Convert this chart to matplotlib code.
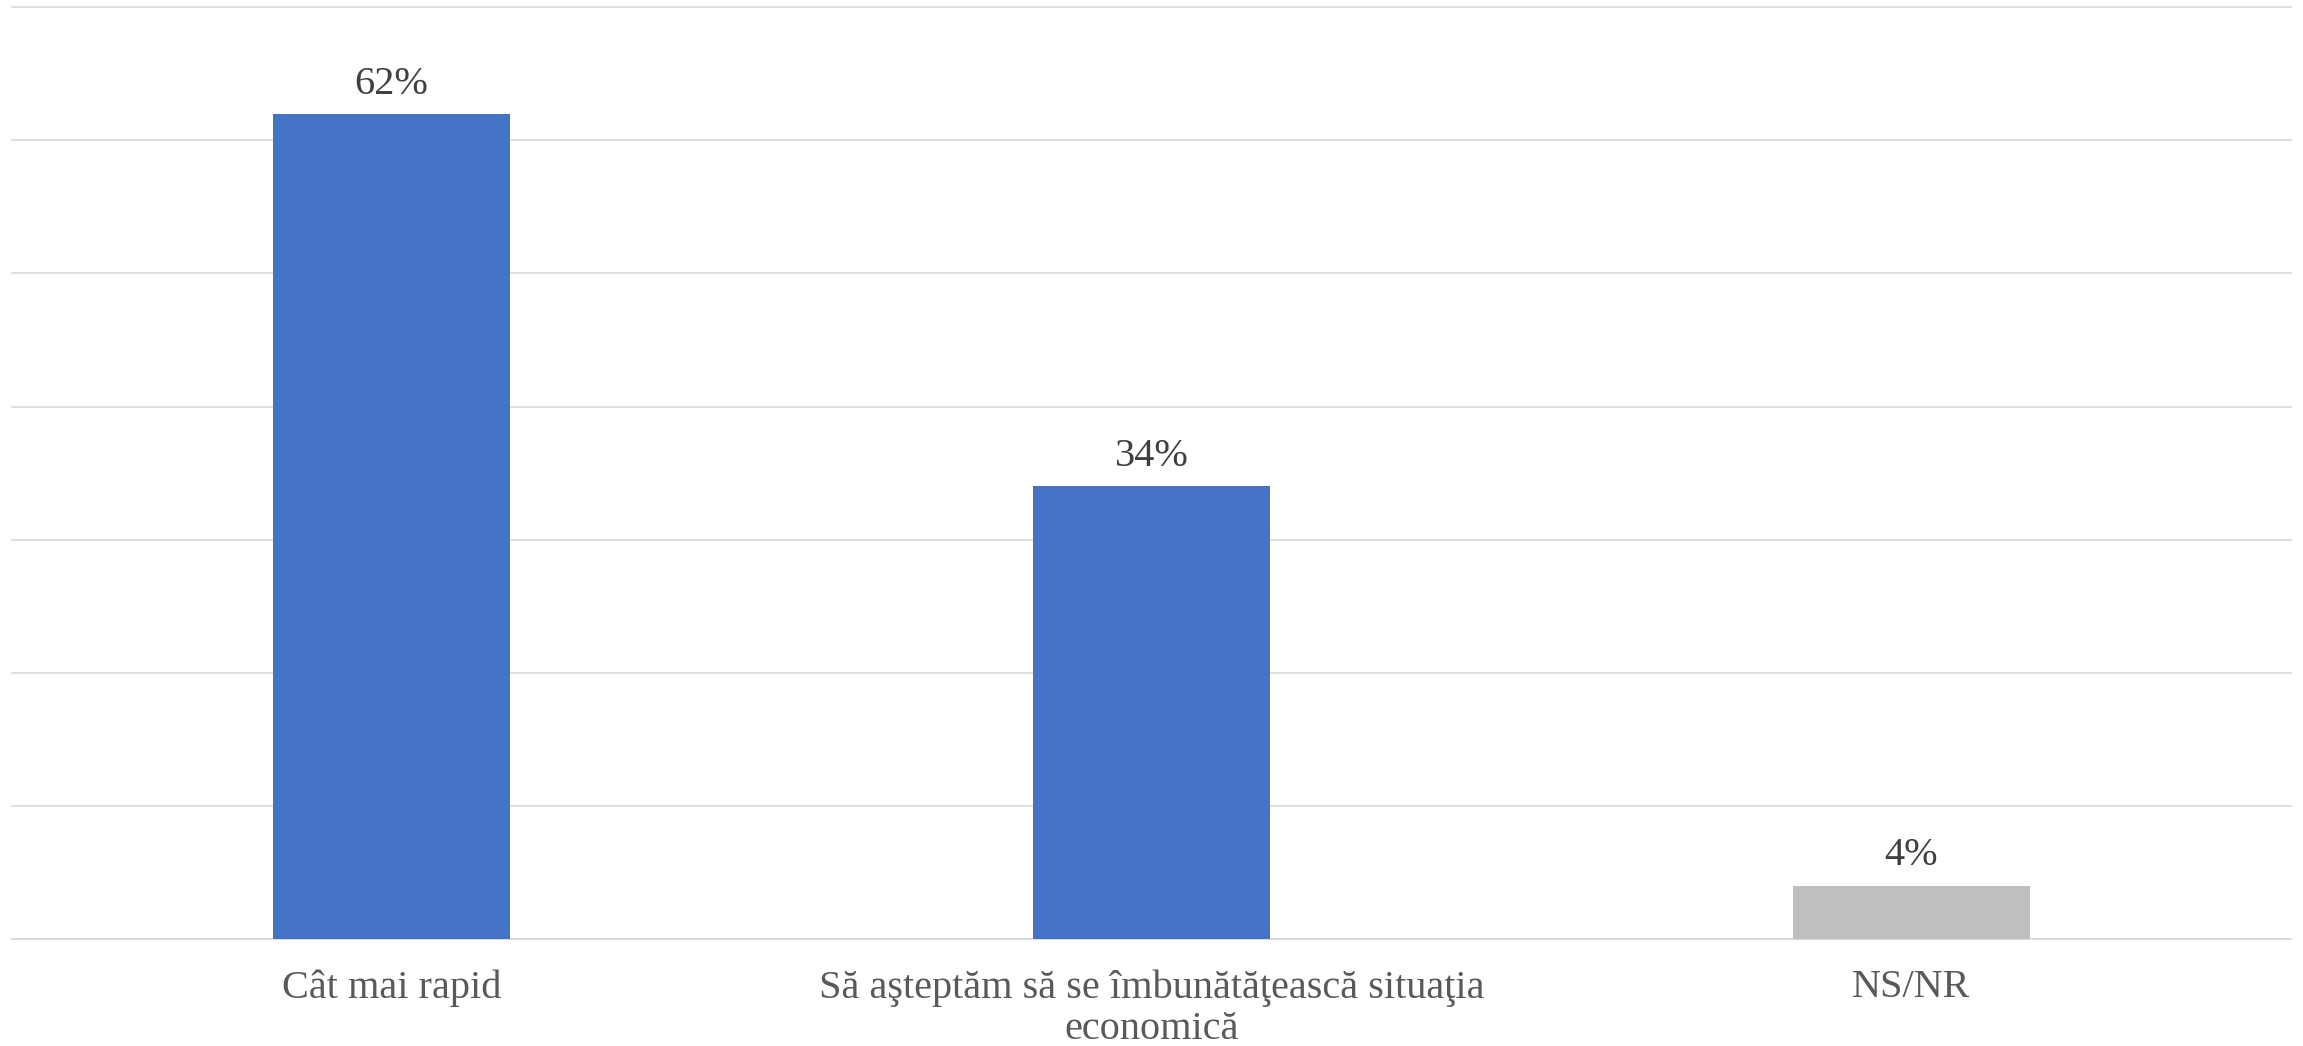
import matplotlib.pyplot as plt

# survey answers and their share of respondents (percent)
categories = ['Cât mai rapid', 'Să aşteptăm să se îmbunătăţească situaţia\neconomică', 'NS/NR']
values = [62, 34, 4]
bar_colors = ['#4472C4', '#4472C4', '#BFBFBF']

plt.rcParams['font.family'] = ['Liberation Serif', 'DejaVu Serif']

fig = plt.figure(figsize=(23.03, 10.46), dpi=100)
ax = fig.add_axes([0.005, 0.1025, 0.99, 0.8905])

x = range(len(categories))
bars = ax.bar(x, values, width=0.313, color=bar_colors, zorder=3)

# value labels above each bar
for rect, v in zip(bars, values):
    ax.annotate(f'{v}%', (rect.get_x() + rect.get_width() / 2, rect.get_height()),
                xytext=(0, 8), textcoords='offset points', ha='center', va='bottom',
                fontsize=29, color='#404040')

ax.set_xlim(-0.5, len(categories) - 0.5)
ax.set_ylim(0, 70)
ax.set_yticks(range(0, 71, 10))
ax.yaxis.grid(True, color='#D9D9D9', linewidth=1.2, zorder=0)
for gl in ax.get_ygridlines():
    gl.set_clip_on(False)
ax.tick_params(axis='y', left=False, labelleft=False)
ax.set_xticks(list(x))
ax.set_xticklabels(categories, fontsize=29, color='#595959', linespacing=1.15)
ax.tick_params(axis='x', length=0, pad=22)
for side in ['top', 'right', 'left']:
    ax.spines[side].set_visible(False)
ax.spines['bottom'].set_color('#D9D9D9')
ax.spines['bottom'].set_linewidth(1.2)

plt.savefig('out.png', dpi=100)
